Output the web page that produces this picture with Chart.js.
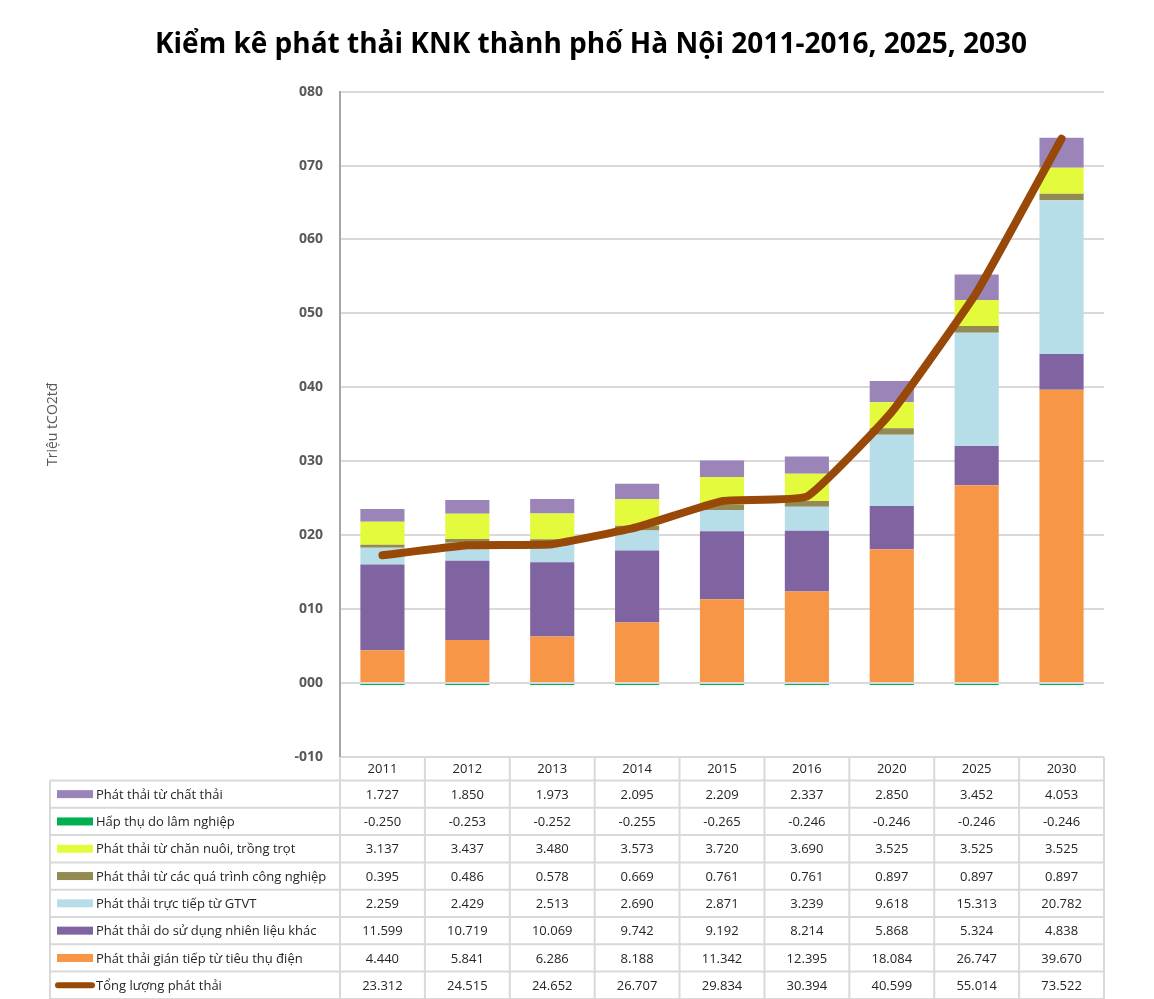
<!DOCTYPE html>
<html>
<head>
<meta charset="utf-8">
<script src="https://cdn.jsdelivr.net/npm/chart.js@4.4.1/dist/chart.umd.min.js"></script>
<style>
  body { margin: 0; background: #fff; }
  canvas { display: block; }
</style>
</head>
<body>
<canvas id="myChart" width="1154" height="999"></canvas>
<script>
// data (triệu tCO2tđ)
var years = ['2011', '2012', '2013', '2014', '2015', '2016', '2020', '2025', '2030'];
var chatThai   = [1.727, 1.850, 1.973, 2.095, 2.209, 2.337, 2.850, 3.452, 4.053];
var lamNghiep  = [-0.250, -0.253, -0.252, -0.255, -0.265, -0.246, -0.246, -0.246, -0.246];
var chanNuoi   = [3.137, 3.437, 3.480, 3.573, 3.720, 3.690, 3.525, 3.525, 3.525];
var congNghiep = [0.395, 0.486, 0.578, 0.669, 0.761, 0.761, 0.897, 0.897, 0.897];
var gtvt       = [2.259, 2.429, 2.513, 2.690, 2.871, 3.239, 9.618, 15.313, 20.782];
var nhienLieu  = [11.599, 10.719, 10.069, 9.742, 9.192, 8.214, 5.868, 5.324, 4.838];
var dien       = [4.440, 5.841, 6.286, 8.188, 11.342, 12.395, 18.084, 26.747, 39.670];
var tongLuong  = [23.312, 24.515, 24.652, 26.707, 29.834, 30.394, 40.599, 55.014, 73.522];

var labels = {
  chatThai: 'Phát thải từ chất thải',
  lamNghiep: 'Hấp thụ do lâm nghiệp',
  chanNuoi: 'Phát thải từ chăn nuôi, trồng trọt',
  congNghiep: 'Phát thải từ các quá trình công nghiệp',
  gtvt: 'Phát thải trực tiếp từ GTVT',
  nhienLieu: 'Phát thải do sử dụng nhiên liệu khác',
  dien: 'Phát thải gián tiếp từ tiêu thụ điện',
  tong: 'Tổng lượng phát thải'
};

var colors = {
  chatThai: '#9b85b8',
  lamNghiep: '#00b050',
  chanNuoi: '#e4fa3c',
  congNghiep: '#948a54',
  gtvt: '#b7dde8',
  nhienLieu: '#8064a2',
  dien: '#f79646',
  tong: '#984807'
};

// rows of the data table, top to bottom
var tableRows = [
  { key: 'chatThai', values: chatThai },
  { key: 'lamNghiep', values: lamNghiep },
  { key: 'chanNuoi', values: chanNuoi },
  { key: 'congNghiep', values: congNghiep },
  { key: 'gtvt', values: gtvt },
  { key: 'nhienLieu', values: nhienLieu },
  { key: 'dien', values: dien },
  { key: 'tong', values: tongLuong }
];

Chart.defaults.font.family = "'Open Sans', 'Noto Sans', sans-serif";

function bar(key, values) {
  return {
    type: 'bar',
    label: labels[key],
    data: values,
    backgroundColor: colors[key],
    barPercentage: 0.52,
    categoryPercentage: 1,
    order: 1
  };
}

// draws the table under the plot, columns follow the x scale
var dataTable = {
  id: 'dataTable',
  afterDraw: function (chart) {
    var ctx = chart.ctx;
    var xs = chart.scales.x;
    var colW = (xs.right - xs.left) / years.length;
    var top = chart.chartArea.bottom;
    var headH = 23.5;
    var rowH = 27.3;
    var left = 50;
    var right = xs.right;
    var bottom = top + headH + rowH * tableRows.length;

    ctx.save();
    ctx.strokeStyle = '#d9d9d9';
    ctx.lineWidth = 2;
    ctx.beginPath();
    // vertical lines of year columns
    for (var i = 0; i <= years.length; i++) {
      var vx = xs.left + i * colW;
      ctx.moveTo(vx, top);
      ctx.lineTo(vx, bottom);
    }
    ctx.moveTo(left, top + headH);
    ctx.lineTo(left, bottom);
    for (var r = 0; r <= tableRows.length; r++) {
      var hy = top + headH + r * rowH;
      ctx.moveTo(left, hy);
      ctx.lineTo(right, hy);
    }
    ctx.stroke();

    ctx.fillStyle = '#262626';
    ctx.font = "13px 'Open Sans', 'Noto Sans', sans-serif";
    ctx.textAlign = 'center';
    ctx.textBaseline = 'middle';
    years.forEach(function (y, i) {
      ctx.fillText(y, xs.getPixelForValue(i), top + headH / 2 + 1);
    });

    tableRows.forEach(function (row, r) {
      var cy = top + headH + r * rowH + rowH / 2;
      if (row.key === 'tong') {
        ctx.strokeStyle = colors.tong;
        ctx.lineWidth = 6;
        ctx.lineCap = 'round';
        ctx.beginPath();
        ctx.moveTo(58, cy);
        ctx.lineTo(92, cy);
        ctx.stroke();
      } else {
        ctx.fillStyle = colors[row.key];
        ctx.fillRect(57, cy - 4, 36, 8);
      }
      ctx.fillStyle = '#262626';
      ctx.textAlign = 'left';
      ctx.fillText(labels[row.key], 96, cy + 1);
      ctx.textAlign = 'center';
      row.values.forEach(function (v, i) {
        ctx.fillText(v.toFixed(3), xs.getPixelForValue(i), cy + 1);
      });
    });
    ctx.restore();
  }
};

var ctx = document.getElementById('myChart').getContext('2d');
var chart = new Chart(ctx, {
  data: {
    labels: years,
    datasets: [
      {
        type: 'line',
        label: labels.tong,
        data: tongLuong,
        yAxisID: 'y2',
        borderColor: colors.tong,
        borderWidth: 8,
        borderCapStyle: 'round',
        borderJoinStyle: 'round',
        pointRadius: 0,
        tension: 0.12,
        order: 0
      },
      bar('dien', dien),
      bar('nhienLieu', nhienLieu),
      bar('gtvt', gtvt),
      bar('congNghiep', congNghiep),
      bar('chanNuoi', chanNuoi),
      bar('chatThai', chatThai),
      bar('lamNghiep', lamNghiep)
    ]
  },
  options: {
    responsive: false,
    animation: false,
    layout: { padding: { left: 28, right: 0, top: 0, bottom: 242 } },
    plugins: {
      legend: { display: false },
      tooltip: { enabled: false },
      title: {
        display: true,
        text: 'Kiểm kê phát thải KNK thành phố Hà Nội 2011-2016, 2025, 2030',
        color: '#000',
        font: { size: 28, weight: 'bold' },
        padding: { top: 28, bottom: 30 }
      }
    },
    scales: {
      x: {
        display: false,
        stacked: true
      },
      y: {
        stacked: true,
        min: -10,
        max: 80,
        afterFit: function (scale) { scale.width = 312; },
        ticks: {
          stepSize: 10,
          padding: 17,
          color: '#595959',
          font: { size: 14, weight: 'bold' },
          callback: function (v) {
            return (v < 0 ? '-' : '') + String(Math.abs(v)).padStart(3, '0');
          }
        },
        grid: { color: '#d9d9d9', lineWidth: 2, drawTicks: false },
        border: { color: '#a6a6a6', width: 2 },
        title: {
          display: true,
          text: 'Triệu tCO2tđ',
          color: '#595959',
          font: { size: 14 },
          padding: { top: 17, bottom: 0 }
        }
      },
      y2: {
        position: 'right',
        min: -1,
        max: 79.2,
        afterFit: function (scale) { scale.width = 50; },
        ticks: { display: false },
        grid: { display: false },
        border: { display: false }
      }
    }
  },
  plugins: [dataTable]
});
</script>
</body>
</html>
